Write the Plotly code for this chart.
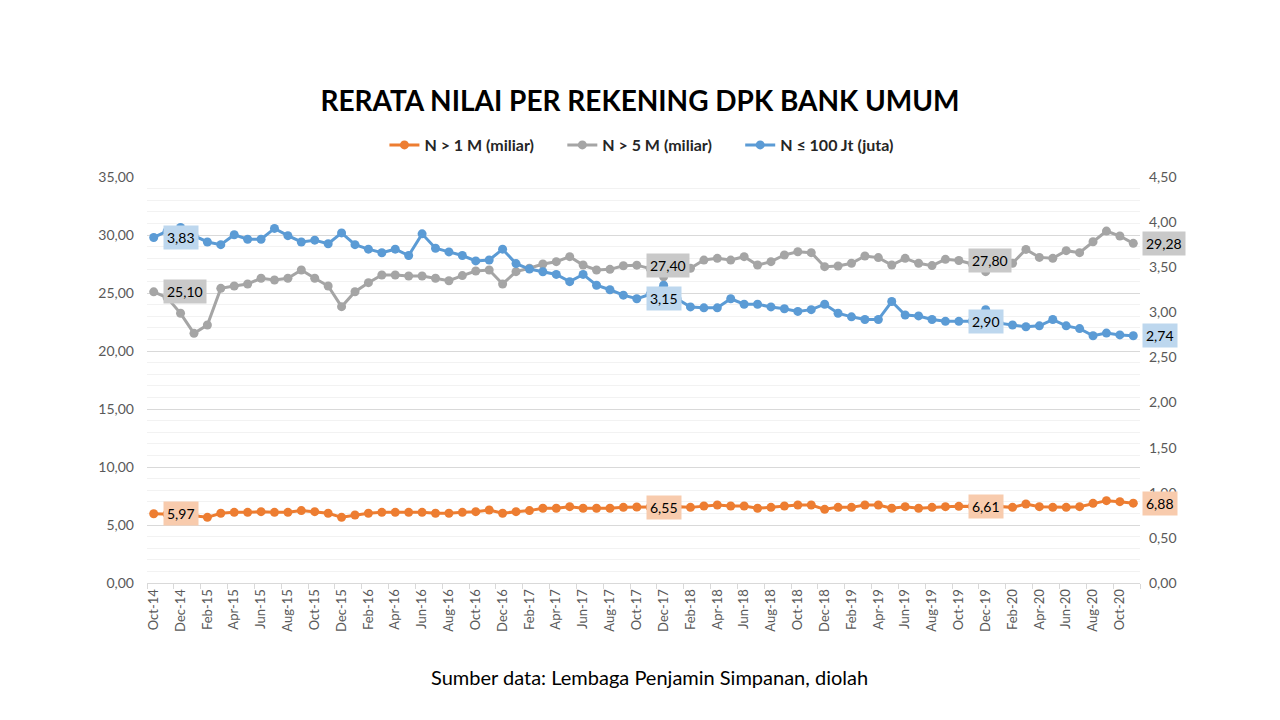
import plotly.graph_objects as go

months = [
    "Oct-14", "Nov-14", "Dec-14",
    "Jan-15", "Feb-15", "Mar-15", "Apr-15", "May-15", "Jun-15", "Jul-15", "Aug-15", "Sep-15", "Oct-15", "Nov-15", "Dec-15",
    "Jan-16", "Feb-16", "Mar-16", "Apr-16", "May-16", "Jun-16", "Jul-16", "Aug-16", "Sep-16", "Oct-16", "Nov-16", "Dec-16",
    "Jan-17", "Feb-17", "Mar-17", "Apr-17", "May-17", "Jun-17", "Jul-17", "Aug-17", "Sep-17", "Oct-17", "Nov-17", "Dec-17",
    "Jan-18", "Feb-18", "Mar-18", "Apr-18", "May-18", "Jun-18", "Jul-18", "Aug-18", "Sep-18", "Oct-18", "Nov-18", "Dec-18",
    "Jan-19", "Feb-19", "Mar-19", "Apr-19", "May-19", "Jun-19", "Jul-19", "Aug-19", "Sep-19", "Oct-19", "Nov-19", "Dec-19",
    "Jan-20", "Feb-20", "Mar-20", "Apr-20", "May-20", "Jun-20", "Jul-20", "Aug-20", "Sep-20", "Oct-20", "Nov-20",
]

# N > 1 M (miliar) - left axis
n_1m = [
    5.97, 5.95, 5.90, 5.80, 5.66, 6.01, 6.09, 6.09, 6.15, 6.09, 6.09, 6.24, 6.15, 6.01, 5.66,
    5.86, 6.01, 6.09, 6.09, 6.09, 6.09, 6.01, 6.01, 6.09, 6.15, 6.29, 6.01,
    6.15, 6.24, 6.44, 6.44, 6.58, 6.44, 6.44, 6.44, 6.52, 6.55, 6.55, 6.55,
    6.58, 6.52, 6.64, 6.72, 6.64, 6.64, 6.44, 6.52, 6.64, 6.72, 6.72, 6.35,
    6.52, 6.52, 6.72, 6.72, 6.44, 6.58, 6.44, 6.52, 6.58, 6.61, 6.61, 6.60,
    6.60, 6.52, 6.81, 6.58, 6.52, 6.52, 6.58, 6.87, 7.10, 7.01, 6.88,
]

# N > 5 M (miliar) - left axis
n_5m = [
    25.10, 24.60, 23.25, 21.52, 22.24, 25.40, 25.60, 25.78, 26.27, 26.12, 26.27, 26.98, 26.27, 25.60, 23.82,
    25.11, 25.89, 26.55, 26.55, 26.47, 26.47, 26.27, 26.06, 26.50, 26.90, 26.98, 25.78,
    26.84, 27.13, 27.50, 27.70, 28.13, 27.41, 26.98, 27.04, 27.35, 27.40, 27.10, 26.40,
    27.00, 27.13, 27.84, 27.99, 27.84, 28.13, 27.41, 27.70, 28.28, 28.56, 28.48, 27.27,
    27.33, 27.56, 28.19, 28.05, 27.41, 27.99, 27.56, 27.36, 27.90, 27.80, 27.50, 26.84,
    27.20, 27.56, 28.76, 28.07, 27.99, 28.65, 28.48, 29.42, 30.34, 29.91, 29.28,
]

# N <= 100 Jt (juta) - right axis
n_100jt = [
    3.83, 3.90, 3.94, 3.85, 3.78, 3.75, 3.86, 3.81, 3.81, 3.93, 3.85, 3.78, 3.80, 3.76, 3.88,
    3.75, 3.70, 3.66, 3.70, 3.63, 3.87, 3.71, 3.67, 3.63, 3.57, 3.58, 3.70,
    3.54, 3.48, 3.45, 3.42, 3.34, 3.42, 3.30, 3.25, 3.19, 3.15, 3.20, 3.30,
    3.15, 3.06, 3.05, 3.05, 3.15, 3.09, 3.09, 3.06, 3.04, 3.01, 3.03, 3.09,
    2.99, 2.95, 2.92, 2.92, 3.12, 2.97, 2.96, 2.92, 2.90, 2.90, 2.90, 3.03,
    2.88, 2.86, 2.84, 2.85, 2.92, 2.85, 2.82, 2.74, 2.77, 2.75, 2.74,
]

label_idx = [0, 36, 60, 73]

series_names = ["N > 1 M (miliar)", "N > 5 M (miliar)", "N \u2264 100 Jt (juta)"]
colors = ["#ED7D31", "#A5A5A5", "#5B9BD5"]
label_bg = ["#F8CBAD", "#C9C9C9", "#BDD7EE"]

FONT = "Lato"
x = list(range(len(months)))

fig = go.Figure()
for name, vals, col, axis in zip(series_names, [n_1m, n_5m, n_100jt], colors, ["y", "y", "y2"]):
    fig.add_trace(go.Scatter(
        x=x, y=vals, name=name + "      ", mode="lines+markers", yaxis=axis,
        line=dict(color=col, width=3),
        marker=dict(color=col, size=9),
        cliponaxis=False,
    ))

annotations = []
for vals, bg, yref in zip([n_1m, n_5m, n_100jt], label_bg, ["y", "y", "y2"]):
    for i in label_idx:
        annotations.append(dict(
            x=i, y=vals[i], xref="x", yref=yref,
            text=f"{vals[i]:.2f}".replace(".", ","),
            showarrow=False, xanchor="left", yanchor="middle", xshift=9,
            bgcolor=bg, borderpad=3,
            font=dict(family=FONT, size=14, color="#000000"),
        ))

annotations.append(dict(
    x=0.5065, y=-0.2315, xref="paper", yref="paper",
    text="Sumber data: Lembaga Penjamin Simpanan, diolah",
    showarrow=False, xanchor="center", yanchor="middle",
    font=dict(family=FONT, size=20, color="#000000"),
))

fig.update_layout(
    width=1280, height=720,
    margin=dict(l=147, r=140, t=177, b=137),
    paper_bgcolor="white", plot_bgcolor="white",
    separators=",.",
    title=dict(
        text="<b>RERATA NILAI PER REKENING DPK BANK UMUM</b>",
        x=0.5, xref="container", xanchor="center",
        y=1 - 101 / 720, yref="container", yanchor="middle",
        font=dict(family=FONT, size=28, color="#000000"),
    ),
    legend=dict(
        orientation="h", x=0.51, xanchor="center", y=1.0788, yanchor="middle",
        font=dict(family=FONT, size=16, color="#262626", weight="bold"),
        itemwidth=30,
    ),
    annotations=annotations,
    xaxis=dict(
        range=[-0.5, len(months) - 0.5],
        tickmode="array", tickvals=x[::2], ticktext=months[::2],
        tickangle=-90, ticks="",
        tickfont=dict(family=FONT, size=13, color="#595959"),
        showgrid=False, zeroline=False,
        showline=True, linecolor="#D9D9D9", linewidth=1,
        minor=dict(tickmode="array", tickvals=[k - 0.5 for k in range(0, len(months) + 1, 2)],
                   ticks="outside", ticklen=5, tickcolor="#D9D9D9", showgrid=False),
    ),
    yaxis=dict(
        range=[0, 35], dtick=5, tickformat=".2f",
        tickfont=dict(family=FONT, size=14, color="#595959"),
        showgrid=True, gridcolor="#D9D9D9", gridwidth=1,
        zeroline=False, showline=False, ticks="",
        minor=dict(dtick=1, showgrid=True, gridcolor="#F2F2F2", gridwidth=1),
        ticklabelstandoff=12,
    ),
    yaxis2=dict(
        range=[0, 4.5], dtick=0.5, tickformat=".2f",
        overlaying="y", side="right",
        tickfont=dict(family=FONT, size=14, color="#595959"),
        showgrid=False, zeroline=False, showline=False, ticks="",
        ticklabelstandoff=8,
    ),
)

fig.write_html("out.html", config={"displayModeBar": False},
               post_script="document.body.style.margin='0';")
